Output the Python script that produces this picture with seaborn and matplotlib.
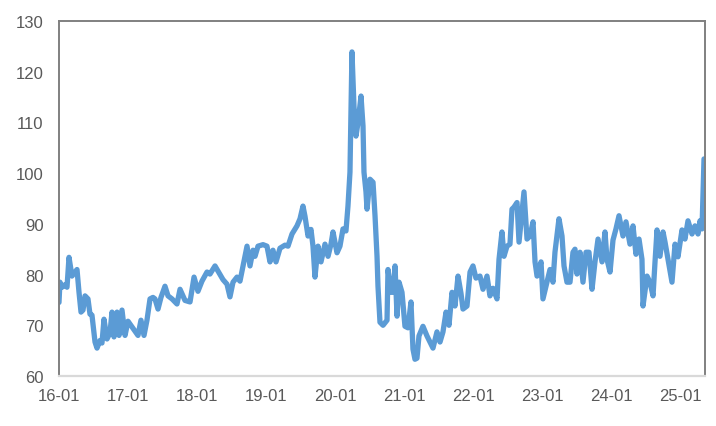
import numpy as np
import pandas as pd
import seaborn as sns
import matplotlib.pyplot as plt
import matplotlib.dates as mdates

# time as years elapsed since 2016-01-01
years_since_2016 = [
    0.000, 0.014, 0.043, 0.087, 0.116, 0.145, 0.188, 0.261, 0.290, 0.319,
    0.348, 0.377, 0.420, 0.449, 0.478, 0.522, 0.551, 0.594, 0.623, 0.652,
    0.696, 0.739, 0.768, 0.797, 0.841, 0.870, 0.913, 0.957,
    1.000, 1.072, 1.145, 1.188, 1.232, 1.275, 1.319, 1.362, 1.391, 1.435,
    1.478, 1.536, 1.580, 1.638, 1.710, 1.754, 1.826, 1.899, 1.957,
    2.014, 2.072, 2.145, 2.188, 2.261, 2.333, 2.377, 2.435, 2.478, 2.522,
    2.580, 2.623, 2.667, 2.725, 2.768, 2.812, 2.841, 2.884, 2.957,
    3.014, 3.058, 3.101, 3.145, 3.203, 3.275, 3.319, 3.377, 3.449, 3.493,
    3.536, 3.565, 3.609, 3.652, 3.681, 3.710, 3.754, 3.797, 3.855, 3.899,
    3.942, 3.971,
    4.029, 4.072, 4.116, 4.159, 4.188, 4.217, 4.246, 4.275, 4.304, 4.333,
    4.377, 4.406, 4.420, 4.449, 4.464, 4.507, 4.551, 4.580, 4.609, 4.623,
    4.652, 4.696, 4.754, 4.768, 4.812, 4.841, 4.870, 4.899, 4.928, 4.971,
    5.014, 5.058, 5.101, 5.130, 5.159, 5.188, 5.217, 5.275, 5.333, 5.377,
    5.420, 5.478, 5.522, 5.565, 5.609, 5.652, 5.696, 5.739, 5.783, 5.826,
    5.855, 5.913, 5.957,
    6.000, 6.043, 6.101, 6.145, 6.203, 6.246, 6.290, 6.348, 6.377, 6.420,
    6.449, 6.493, 6.536, 6.565, 6.594, 6.638, 6.667, 6.710, 6.739, 6.783,
    6.826, 6.870, 6.899, 6.928, 6.986,
    7.014, 7.072, 7.116, 7.159, 7.188, 7.246, 7.290, 7.319, 7.362, 7.406,
    7.449, 7.478, 7.507, 7.551, 7.594, 7.638, 7.681, 7.725, 7.768, 7.812,
    7.870, 7.913, 7.942, 7.986,
    8.029, 8.072, 8.116, 8.174, 8.217, 8.275, 8.319, 8.362, 8.406, 8.449,
    8.464, 8.522, 8.565, 8.609, 8.638, 8.667, 8.710, 8.754, 8.783, 8.826,
    8.884, 8.928, 8.971,
    9.029, 9.072, 9.116, 9.174, 9.217, 9.261, 9.290, 9.319, 9.348,
]
values = [
    74.5, 78.5, 77.5, 78.0, 77.5, 83.4, 79.7, 81.0, 76.5, 72.6,
    73.0, 75.8, 75.2, 72.2, 72.0, 66.7, 65.5, 67.0, 66.5, 71.2,
    67.3, 68.5, 72.6, 67.7, 72.6, 68.0, 73.0, 68.0,
    70.8, 69.4, 68.0, 71.0, 68.0, 71.0, 75.2, 75.5, 75.2, 73.2,
    75.5, 77.7, 75.8, 75.2, 74.2, 77.1, 74.9, 74.6, 79.5,
    76.7, 78.7, 80.5, 80.1, 81.7, 80.0, 79.0, 78.1, 75.6, 78.5,
    79.5, 78.7, 81.7, 85.6, 81.7, 84.8, 83.6, 85.6, 85.9,
    85.6, 82.5, 84.8, 82.5, 85.2, 85.8, 85.6, 88.0, 89.6, 91.0,
    93.5, 91.5, 87.6, 88.9, 85.6, 79.5, 85.6, 82.5, 86.0, 83.6,
    86.0, 88.4,
    84.3, 85.6, 89.0, 88.6, 93.5, 100.2, 123.9, 113.2, 107.3, 109.9,
    115.2, 109.3, 100.2, 96.3, 92.9, 98.8, 98.2, 91.6, 83.6, 77.7,
    70.6, 70.0, 71.0, 81.0, 76.5, 76.5, 81.7, 71.8, 78.5, 76.5,
    69.8, 69.5, 74.6, 65.3, 63.3, 63.5, 67.9, 69.8, 67.9, 66.7,
    65.5, 68.7, 66.7, 68.7, 72.6, 70.0, 76.5, 73.8, 79.7, 76.3,
    73.2, 73.8, 80.5,
    81.7, 79.3, 79.7, 77.1, 79.7, 75.8, 77.3, 75.2, 83.0, 88.4,
    83.6, 85.6, 86.0, 92.9, 93.3, 94.2, 86.4, 92.3, 96.3, 87.0,
    87.6, 90.4, 82.5, 79.7, 82.5,
    75.2, 78.5, 81.0, 78.5, 84.4, 91.0, 87.6, 81.7, 78.5, 78.5,
    84.4, 85.0, 80.1, 84.4, 78.5, 84.4, 84.4, 77.1, 82.5, 87.0,
    82.5, 88.4, 83.0, 80.5,
    86.8, 89.0, 91.6, 87.6, 90.4, 86.0, 89.6, 84.0, 87.0, 83.0,
    73.8, 79.7, 78.5, 75.8, 82.5, 88.8, 83.6, 88.4, 86.4, 83.0,
    78.5, 86.0, 83.5,
    88.8, 87.0, 90.6, 88.0, 89.6, 88.0, 90.6, 89.0, 102.8,
]

start = pd.Timestamp("2016-01-01")
dates = start + pd.to_timedelta(np.array(years_since_2016) * 365.25, unit="D")
df = pd.DataFrame({"date": dates, "value": values})

sns.set_style("white")
plt.rcParams["font.family"] = ["Liberation Sans", "DejaVu Sans"]

fig = plt.figure(figsize=(7.16, 4.27), dpi=100)
ax = fig.add_axes([0.0824, 0.1171, 0.9022, 0.8314])

sns.lineplot(data=df, x="date", y="value", ax=ax, color="#5B9BD5",
             linewidth=3.8, solid_joinstyle="round", solid_capstyle="round")

ax.set_ylim(60, 130)
ax.set_yticks(range(60, 131, 10))
ax.set_xlim(start, start + pd.Timedelta(days=9.362 * 365.25))
ax.xaxis.set_major_locator(mdates.YearLocator())
ax.xaxis.set_major_formatter(mdates.DateFormatter("%y-%m"))
ax.set_xlabel("")
ax.set_ylabel("")

ax.tick_params(axis="both", length=0, labelsize=12, labelcolor="#595959")
ax.tick_params(axis="y", pad=11)
ax.tick_params(axis="x", pad=9)

for side in ["left", "top", "right"]:
    ax.spines[side].set_color("#808080")
    ax.spines[side].set_linewidth(1.4)
ax.spines["bottom"].set_color("#D9D9D9")
ax.spines["bottom"].set_linewidth(1.6)

plt.savefig("out.png", dpi=100)
